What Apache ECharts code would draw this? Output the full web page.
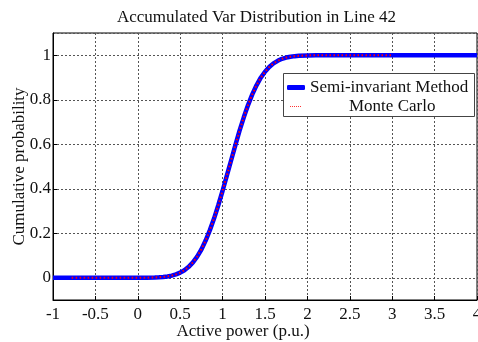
<!DOCTYPE html>
<html>
<head>
<meta charset="utf-8">
<script src="https://cdn.jsdelivr.net/npm/echarts@6/dist/echarts.min.js"></script>
<style>
  html, body { margin: 0; padding: 0; background: #fff; }
  #chart { width: 478px; height: 342px; }
</style>
</head>
<body>
<div id="chart"></div>
<script>
  // x positions (p.u.)
  const xs = [-1, -0.78, 0, 0.1, 0.2, 0.25, 0.3, 0.35, 0.4, 0.45, 0.5, 0.55, 0.6, 0.65, 0.7, 0.75,
    0.8, 0.85, 0.9, 0.95, 1.0, 1.05, 1.1, 1.15, 1.2, 1.25, 1.3, 1.35, 1.4, 1.45, 1.5, 1.55,
    1.6, 1.65, 1.7, 1.75, 1.8, 1.85, 1.9, 2.0, 2.1, 2.2, 3.0, 4.0]
  // cumulative probability, semi-invariant method
  const semiY = [0, 0, 0.0001, 0.0004, 0.0012, 0.002, 0.0036, 0.006, 0.0096, 0.015, 0.023, 0.034, 0.049, 0.069, 0.095, 0.127,
    0.167, 0.214, 0.267, 0.327, 0.391, 0.459, 0.527, 0.595, 0.661, 0.721, 0.776, 0.824, 0.865, 0.899, 0.926, 0.947,
    0.9635, 0.975, 0.984, 0.9896, 0.9934, 0.996, 0.9977, 0.9992, 0.9998, 1, 1, 1]
  // cumulative probability, Monte Carlo (only sampled from -0.78 to 3)
  const mcY = [null, 0, 0.0001, 0.0004, 0.0013, 0.002, 0.0037, 0.006, 0.0097, 0.015, 0.023, 0.034, 0.049, 0.069, 0.095, 0.128,
    0.167, 0.214, 0.268, 0.327, 0.391, 0.459, 0.527, 0.595, 0.661, 0.721, 0.776, 0.824, 0.865, 0.899, 0.926, 0.947,
    0.963, 0.975, 0.984, 0.9896, 0.9934, 0.996, 0.9977, 0.9992, 0.9998, 1, 1, null]
  const xTicks = [-1, -0.5, 0, 0.5, 1, 1.5, 2, 2.5, 3, 3.5, 4]

  const font = 'Liberation Serif, Times New Roman, serif'
  const fs = 17
  const gridLine = { show: true, lineStyle: { color: '#555', type: [2, 2], width: 1 } }
  const dots = 'path://M0,0h1v1h-1z M2,0h1v1h-1z M4,0h1v1h-1z M6,0h1v1h-1z M8,0h1v1h-1z M10,0h1v1h-1z'

  const chart = echarts.init(document.getElementById('chart'))
  chart.setOption({
    animation: false,
    backgroundColor: '#fff',
    title: {
      text: 'Accumulated Var Distribution in Line 42',
      left: 112,
      top: 4,
      textStyle: { fontFamily: font, fontSize: fs, fontWeight: 'normal', color: '#111' }
    },
    grid: { left: 53, right: 1, top: 33, bottom: 42, show: true, borderColor: '#000', borderWidth: 1,
      outerBoundsMode: 'none' },
    legend: [{
      left: 282, top: 74, orient: 'vertical', itemWidth: 18, itemHeight: 5, itemGap: 4,
      data: [{ name: 'Semi-invariant Method', icon: 'roundRect' }],
      textStyle: { fontFamily: font, fontSize: fs, color: '#111' }
    }, {
      left: 285, top: 93, orient: 'vertical', itemWidth: 11, itemHeight: 1.5,
      data: [{ name: 'Monte Carlo', icon: dots, itemStyle: { color: '#ff3333' },
        textStyle: { padding: [0, 0, 0, 43] } }],
      textStyle: { fontFamily: font, fontSize: fs, color: '#111' }
    }],
    graphic: [{
      type: 'rect', left: 283, top: 73, z: 2,
      shape: { width: 191, height: 43 },
      style: { fill: '#fff', stroke: '#444', lineWidth: 1 }
    }],
    xAxis: {
      type: 'value', min: -1, max: 4, interval: 0.5,
      name: 'Active power (p.u.)', nameLocation: 'middle', nameGap: 23, nameMoveOverlap: false,
      nameTextStyle: { fontFamily: font, fontSize: fs, color: '#111', padding: [0, 44, 0, 0] },
      axisLine: { onZero: false, lineStyle: { color: '#000' } },
      axisTick: { inside: true, length: 4, lineStyle: { color: '#000' } },
      axisLabel: { fontFamily: font, fontSize: fs, color: '#111', margin: 6,
        formatter: v => xTicks.includes(v) ? String(v) : '' },
      splitLine: gridLine
    },
    yAxis: {
      type: 'value', min: -0.1, max: 1.1, splitNumber: 6,
      name: 'Cumulative probability', nameLocation: 'middle', nameGap: 25, nameMoveOverlap: false,
      nameTextStyle: { fontFamily: font, fontSize: fs, color: '#111' },
      axisLine: { show: true, onZero: false, lineStyle: { color: '#000' } },
      axisTick: { inside: true, length: 4, lineStyle: { color: '#000' } },
      axisLabel: { fontFamily: font, fontSize: fs, color: '#111', margin: 2,
        showMinLabel: false, showMaxLabel: false },
      splitLine: gridLine
    },
    series: [{
      name: 'Semi-invariant Method', type: 'line', showSymbol: false, symbol: 'none', z: 3,
      data: xs.map((x, i) => [x, semiY[i]]),
      itemStyle: { color: '#0000ff' },
      lineStyle: { color: '#0000ff', width: 4.5 }
    }, {
      name: 'Monte Carlo', type: 'line', showSymbol: false, symbol: 'none', z: 4,
      data: xs.map((x, i) => [x, mcY[i]]),
      itemStyle: { color: '#ff0000' },
      lineStyle: { color: '#ff0000', width: 2, type: [1.5, 2.5] }
    }]
  })
</script>
</body>
</html>
